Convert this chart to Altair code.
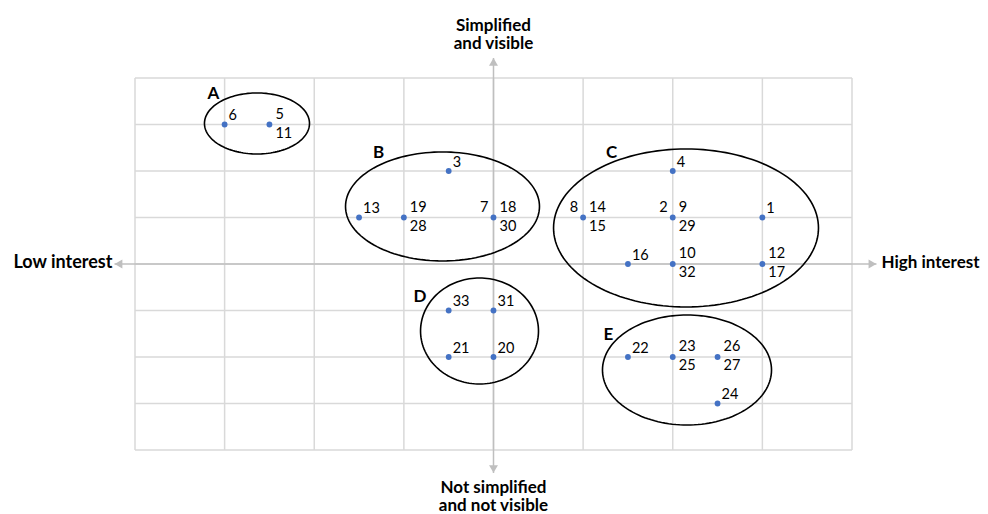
import altair as alt
import numpy as np
import pandas as pd

# ---- data ----
pt_x = [-3, -2.5, -0.5, -1.5, -1, 0, 2, 1, 2, 3, 1.5, 2, 3, -0.5, 0, -0.5, 0, 1.5, 2, 2.5, 2.5]
pt_y = [3, 3, 2, 1, 1, 1, 2, 1, 1, 1, 0, 0, 0, -1, -1, -2, -2, -2, -2, -2, -3]
lab_top = ["6", "5", "3", "13", "19", "18", "4", "14", "9", "1", "16", "10", "12",
           "33", "31", "21", "20", "22", "23", "26", "24"]
lab_bottom = ["", "11", "", "", "28", "30", "", "15", "29", "", "", "32", "17",
              "", "", "", "", "", "25", "27", ""]
lab_left = ["", "", "", "", "", "7", "", "8", "2", "", "", "", "",
            "", "", "", "", "", "", "", ""]

groups = ["A", "B", "C", "D", "E"]
grp_cx = [-2.639, -0.569, 2.148, -0.156, 2.159]
grp_cy = [3.022, 1.237, 0.774, -1.441, -2.280]
grp_rx = [0.586, 1.082, 1.478, 0.658, 0.943]
grp_ry = [0.656, 1.172, 1.699, 1.140, 1.183]
grp_lx = [-3.124, -1.283, 1.317, -0.820, 1.283]
grp_ly = [3.656, 2.390, 2.387, -0.710, -1.527]

grid_ticks = [-4, -3, -2, -1, 0, 1, 2, 3, 4]
axis_x_ends = [-4.229, 4.273]
axis_y_ends = [-4.495, 4.430]

# ---- layout ----
W, H = 972, 506
PXU_X, PXU_Y = 89.625, 46.5
X_DOM = [-5.417, -5.417 + W / PXU_X]
Y_DOM = [5.505 - H / PXU_Y, 5.505]
xs = alt.Scale(domain=X_DOM, nice=False, zero=False)
ys = alt.Scale(domain=Y_DOM, nice=False, zero=False)
FONT = "Lato"


def X(f):
    return alt.X(f, type="quantitative", scale=xs, axis=None)


def Y(f):
    return alt.Y(f, type="quantitative", scale=ys, axis=None)


# grid
vgrid = pd.DataFrame({"x": grid_ticks, "y": -4, "y2": 4})
hgrid = pd.DataFrame({"y": grid_ticks, "x": -4, "x2": 4})
grid_v = alt.Chart(vgrid).mark_rule(color="#d9d9d9", strokeWidth=1.5).encode(
    x=X("x"), y=Y("y"), y2="y2")
grid_h = alt.Chart(hgrid).mark_rule(color="#d9d9d9", strokeWidth=1.5).encode(
    y=Y("y"), x=X("x"), x2="x2")

# axes with arrows
axh = pd.DataFrame({"x": [axis_x_ends[0]], "x2": [axis_x_ends[1]], "y": [0]})
axv = pd.DataFrame({"y": [axis_y_ends[0]], "y2": [axis_y_ends[1]], "x": [0]})
ax_h = alt.Chart(axh).mark_rule(color="#bfbfbf", strokeWidth=1.5).encode(
    x=X("x"), x2="x2", y=Y("y"))
ax_v = alt.Chart(axv).mark_rule(color="#bfbfbf", strokeWidth=1.5).encode(
    y=Y("y"), y2="y2", x=X("x"))

heads = []
for shape, hx, hy, ox, oy in [
    ("triangle-left", axis_x_ends[0], 0, 4, 0),
    ("triangle-right", axis_x_ends[1], 0, -4, 0),
    ("triangle-up", 0, axis_y_ends[1], 0, 4),
    ("triangle-down", 0, axis_y_ends[0], 0, -4),
]:
    heads.append(
        alt.Chart(pd.DataFrame({"x": [hx], "y": [hy]}))
        .mark_point(shape=shape, filled=True, color="#bfbfbf", opacity=1,
                    size=80, xOffset=ox, yOffset=oy)
        .encode(x=X("x"), y=Y("y"))
    )

# ellipses
t = np.linspace(0, 2 * np.pi, 145)
rows = []
for g, cx, cy, rx, ry in zip(groups, grp_cx, grp_cy, grp_rx, grp_ry):
    for i, tt in enumerate(t):
        rows.append({"g": g, "i": i, "x": cx + rx * np.cos(tt), "y": cy + ry * np.sin(tt)})
ell = pd.DataFrame(rows)
ellipses = alt.Chart(ell).mark_line(color="black", strokeWidth=1.6).encode(
    x=X("x"), y=Y("y"), detail="g:N", order="i:Q")

# points
pts = pd.DataFrame({"x": pt_x, "y": pt_y, "top": lab_top,
                    "bottom": lab_bottom, "left": lab_left})
pts["single"] = (pts["bottom"] == "") & (pts["left"] == "")
points = alt.Chart(pts).mark_circle(color="#4472C4", size=34, opacity=1).encode(
    x=X("x"), y=Y("y"))

txt = dict(font=FONT, fontSize=14.5, color="black", baseline="middle")
single_lab = alt.Chart(pts[pts["single"]]).mark_text(align="left", dx=4, dy=-8, **txt).encode(
    x=X("x"), y=Y("y"), text="top:N")
pair_top = alt.Chart(pts[~pts["single"]]).mark_text(align="left", dx=6, dy=-9.5, **txt).encode(
    x=X("x"), y=Y("y"), text="top:N")
pair_bot = alt.Chart(pts[pts["bottom"] != ""]).mark_text(align="left", dx=6, dy=9.5, **txt).encode(
    x=X("x"), y=Y("y"), text="bottom:N")
left_lab = alt.Chart(pts[pts["left"] != ""]).mark_text(align="right", dx=-5, dy=-9, **txt).encode(
    x=X("x"), y=Y("y"), text="left:N")

# group letters
gl = pd.DataFrame({"g": groups, "x": grp_lx, "y": grp_ly})
group_lab = alt.Chart(gl).mark_text(font=FONT, fontSize=17, fontWeight="bold",
                                    color="black", align="center", baseline="middle").encode(
    x=X("x"), y=Y("y"), text="g:N")

# axis titles
bold = dict(font=FONT, fontWeight="bold", color="black")
t_left = alt.Chart(pd.DataFrame({"x": [axis_x_ends[0]], "y": [0], "t": ["Low interest"]})).mark_text(
    align="right", baseline="middle", dx=-2, dy=-1, fontSize=18, **bold).encode(
    x=X("x"), y=Y("y"), text="t:N")
t_right = alt.Chart(pd.DataFrame({"x": [axis_x_ends[1]], "y": [0], "t": ["High interest"]})).mark_text(
    align="left", baseline="middle", dx=5, dy=-1, fontSize=17, **bold).encode(
    x=X("x"), y=Y("y"), text="t:N")
t_top = alt.Chart(pd.DataFrame({"x": [0], "y": [5.011], "t": ["Simplified\nand visible"]})).mark_text(
    align="center", baseline="alphabetic", lineBreak="\n", lineHeight=18, fontSize=17, **bold).encode(
    x=X("x"), y=Y("y"), text="t:N")
t_bot = alt.Chart(pd.DataFrame({"x": [0], "y": [-4.93], "t": ["Not simplified\nand not visible"]})).mark_text(
    align="center", baseline="alphabetic", lineBreak="\n", lineHeight=18, fontSize=17, **bold).encode(
    x=X("x"), y=Y("y"), text="t:N")

chart = alt.layer(
    grid_v, grid_h, ax_h, ax_v, *heads, ellipses, points,
    single_lab, pair_top, pair_bot, left_lab, group_lab,
    t_left, t_right, t_top, t_bot,
).properties(
    width=W, height=H, padding=0, autosize=alt.AutoSizeParams(type="none")
).configure_view(strokeWidth=0)

chart.save("out.html", embed_options={"renderer": "svg", "actions": False})
